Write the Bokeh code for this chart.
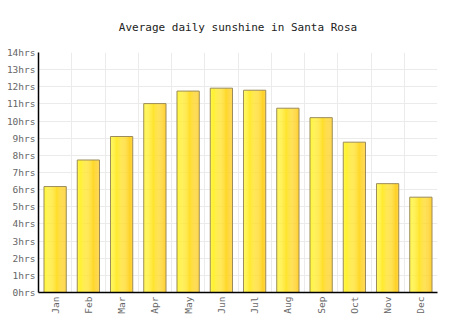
from bokeh.plotting import figure
from bokeh.models import ColumnDataSource, FixedTicker, Range1d, Title
from bokeh.transform import dodge
from bokeh.embed import file_html
from bokeh.resources import INLINE

months = ["Jan", "Feb", "Mar", "Apr", "May", "Jun", "Jul", "Aug", "Sep", "Oct", "Nov", "Dec"]
sunshine = [6.18, 7.73, 9.10, 11.02, 11.75, 11.92, 11.80, 10.75, 10.2, 8.77, 6.35, 5.56]
y_ticks = list(range(0, 15))
y_tick_labels = [f"{v}hrs" for v in y_ticks]

FONT = "DejaVu Sans Mono"
xs = list(range(len(months)))
src = ColumnDataSource(dict(x=xs, top=sunshine, month=months))

p = figure(width=474, height=331, output_backend="svg", toolbar_location=None,
           x_range=Range1d(-0.5, len(months) - 0.5), y_range=Range1d(0, 14),
           min_border_left=38, min_border_right=37, min_border_top=52, min_border_bottom=39)
p.outline_line_color = None
p.background_fill_color = "white"
p.border_fill_color = "white"

t = Title(text="Average daily sunshine in Santa Rosa", align="center",
          text_font=FONT, text_font_size="11px", text_font_style="normal",
          text_color="#222222", standoff=37)
p.add_layout(t, "above")

# gradient bars via thin slices
bw = 0.67
N = 24
c0 = (255, 246, 48)
c1 = (255, 204, 34)
sw = bw / N
for i in range(N):
    f = i / (N - 1)
    col = "#%02x%02x%02x" % tuple(int(round(a + (b - a) * f)) for a, b in zip(c0, c1))
    off = -bw / 2 + sw * (i + 0.5)
    p.vbar(x=dodge("x", off), top="top", bottom=0, width=sw * 1.05, source=src,
           fill_color=col, line_color=None)
p.vbar(x="x", top="top", bottom=0, width=bw, source=src,
       fill_color=None, line_color="#9c8c5c", line_width=1)

# grids
p.xgrid.ticker = FixedTicker(ticks=[i - 0.5 for i in range(len(months) + 1)])
p.xgrid.grid_line_color = "#ebebeb"
p.ygrid.ticker = FixedTicker(ticks=y_ticks)
p.ygrid.grid_line_color = "#ebebeb"
p.xgrid.level = "underlay"
p.ygrid.level = "underlay"

# axes
p.xaxis.ticker = FixedTicker(ticks=xs)
p.xaxis.major_label_overrides = {i: m for i, m in enumerate(months)}
p.xaxis.major_label_orientation = 1.5708
p.yaxis.ticker = FixedTicker(ticks=y_ticks)
p.yaxis.major_label_overrides = {v: l for v, l in zip(y_ticks, y_tick_labels)}
for ax in (p.xaxis, p.yaxis):
    ax.axis_line_color = "#000000"
    ax.axis_line_width = 1.5
    ax.major_tick_line_color = None
    ax.minor_tick_line_color = None
    ax.major_tick_out = 0
    ax.major_tick_in = 0
    ax.major_label_text_font = FONT
    ax.major_label_text_font_size = "9.5px"
    ax.major_label_text_color = "#666666"
p.xaxis.major_label_standoff = 4
p.yaxis.major_label_standoff = 3

open("out.html", "w").write(file_html(p, INLINE))
